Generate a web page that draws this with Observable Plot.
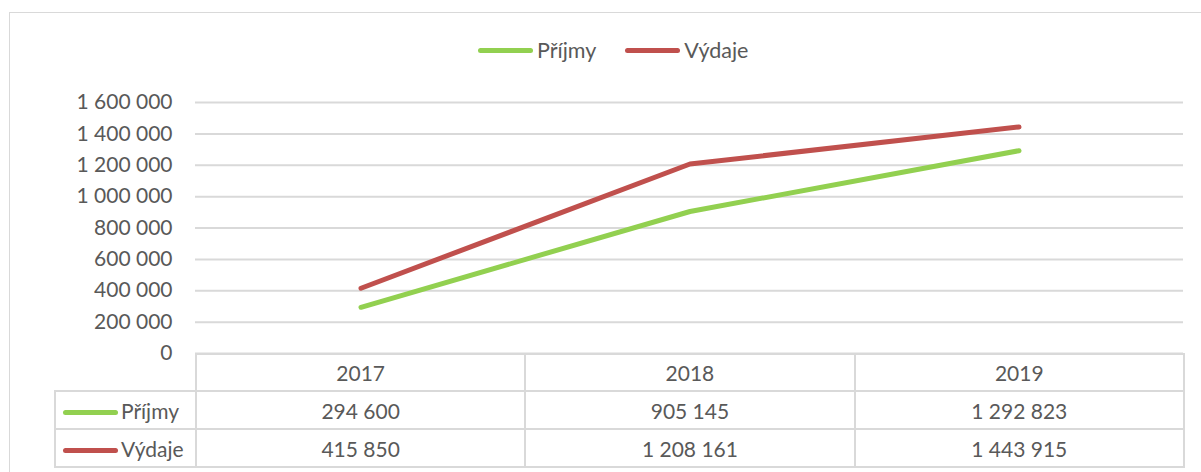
<!DOCTYPE html>
<html>
<head>
<meta charset="utf-8">
<script src="https://cdn.jsdelivr.net/npm/d3@7"></script>
<script src="https://cdn.jsdelivr.net/npm/@observablehq/plot@0.6"></script>
<style>
  body { margin: 0; background: #fff; font-family: Lato, "Open Sans", sans-serif; color: #595959; }
  #wrap { position: relative; width: 1201px; height: 472px; overflow: hidden; }
  #frame { position: absolute; left: 9px; top: 12px; width: 1400px; height: 800px; border: 1.5px solid #d9d9d9; box-sizing: border-box; }
  #chart { position: absolute; left: 0; top: 0; }
  #legend { position: absolute; left: 478px; top: 37px; display: flex; align-items: center; font-size: 21.5px; }
  .sw { display: inline-block; width: 55px; height: 5px; border-radius: 3px; }
  .item { display: flex; align-items: center; }
  .item span.t { margin-left: 4px; }
  #tbl { position: absolute; left: 54px; top: 353px; border-collapse: collapse; font-size: 21px; table-layout: fixed; }
  #tbl td { border: 2px solid #d9d9d9; padding: 0; text-align: center; color: #595959; box-sizing: border-box; }
  #tbl tr.h td { height: 37px; }
  #tbl tr.r td { height: 38px; }
  #tbl td.lab { text-align: left; padding-left: 7px; }
  #tbl td.empty { border-top: none; border-left: none; }
  #tbl td.lab .sw { vertical-align: middle; margin-right: 3px; position: relative; top: -1px; }
</style>
</head>
<body>
<div id="wrap">
  <div id="frame"></div>
  <div id="chart"></div>
  <div id="legend"></div>
  <table id="tbl"></table>
</div>
<script>
const years = ["2017", "2018", "2019"];
const seriesNames = ["Příjmy", "Výdaje"];
const seriesColors = ["#92d050", "#c0504d"];
const prijmy = [294600, 905145, 1292823];
const vydaje = [415850, 1208161, 1443915];
const yTicks = [0, 200000, 400000, 600000, 800000, 1000000, 1200000, 1400000, 1600000];

const values = [prijmy, vydaje];
const data = [];
seriesNames.forEach((s, i) => years.forEach((y, j) => data.push({series: s, year: y, value: values[i][j]})));

const loc = d3.formatLocale({decimal: ",", thousands: "\u00a0", grouping: [3], currency: ["", ""]});
const fmt = loc.format(",d");

const plot = Plot.plot({
  width: 1201,
  height: 360,
  marginLeft: 195,
  marginRight: 18,
  marginTop: 102,
  marginBottom: 7,
  style: {fontFamily: "Lato, 'Open Sans', sans-serif", fontSize: "21px", color: "#595959", background: "transparent", overflow: "visible"},
  x: {type: "band", domain: years, padding: 0, axis: null},
  y: {domain: [0, 1600000]},
  color: {domain: seriesNames, range: seriesColors},
  marks: [
    Plot.gridY(yTicks, {stroke: "#d9d9d9", strokeOpacity: 1, strokeWidth: 2}),
    Plot.axisY(yTicks, {tickSize: 0, tickPadding: 23, tickFormat: fmt, fontSize: 21, fill: "#595959", label: null}),
    Plot.line(data, {x: "year", y: "value", stroke: "series", z: "series", strokeWidth: 5, strokeLinecap: "round", strokeLinejoin: "round"})
  ]
});
document.getElementById("chart").appendChild(plot);

// legend
const leg = document.getElementById("legend");
seriesNames.forEach((s, i) => {
  const it = document.createElement("div");
  it.className = "item";
  if (i > 0) it.style.marginLeft = "29px";
  it.innerHTML = `<span class="sw" style="background:${seriesColors[i]}"></span><span class="t">${s}</span>`;
  leg.appendChild(it);
});

// data table
const tbl = document.getElementById("tbl");
const cg = document.createElement("colgroup");
cg.innerHTML = `<col style="width:141px">` + years.map(() => `<col style="width:329.3px">`).join("");
tbl.appendChild(cg);
const hr = document.createElement("tr");
hr.className = "h";
hr.innerHTML = `<td class="empty"></td>` + years.map(y => `<td>${y}</td>`).join("");
tbl.appendChild(hr);
seriesNames.forEach((s, i) => {
  const tr = document.createElement("tr");
  tr.className = "r";
  tr.innerHTML = `<td class="lab"><span class="sw" style="background:${seriesColors[i]}"></span>${s}</td>` +
    values[i].map(v => `<td>${fmt(v)}</td>`).join("");
  tbl.appendChild(tr);
});
</script>
</body>
</html>
